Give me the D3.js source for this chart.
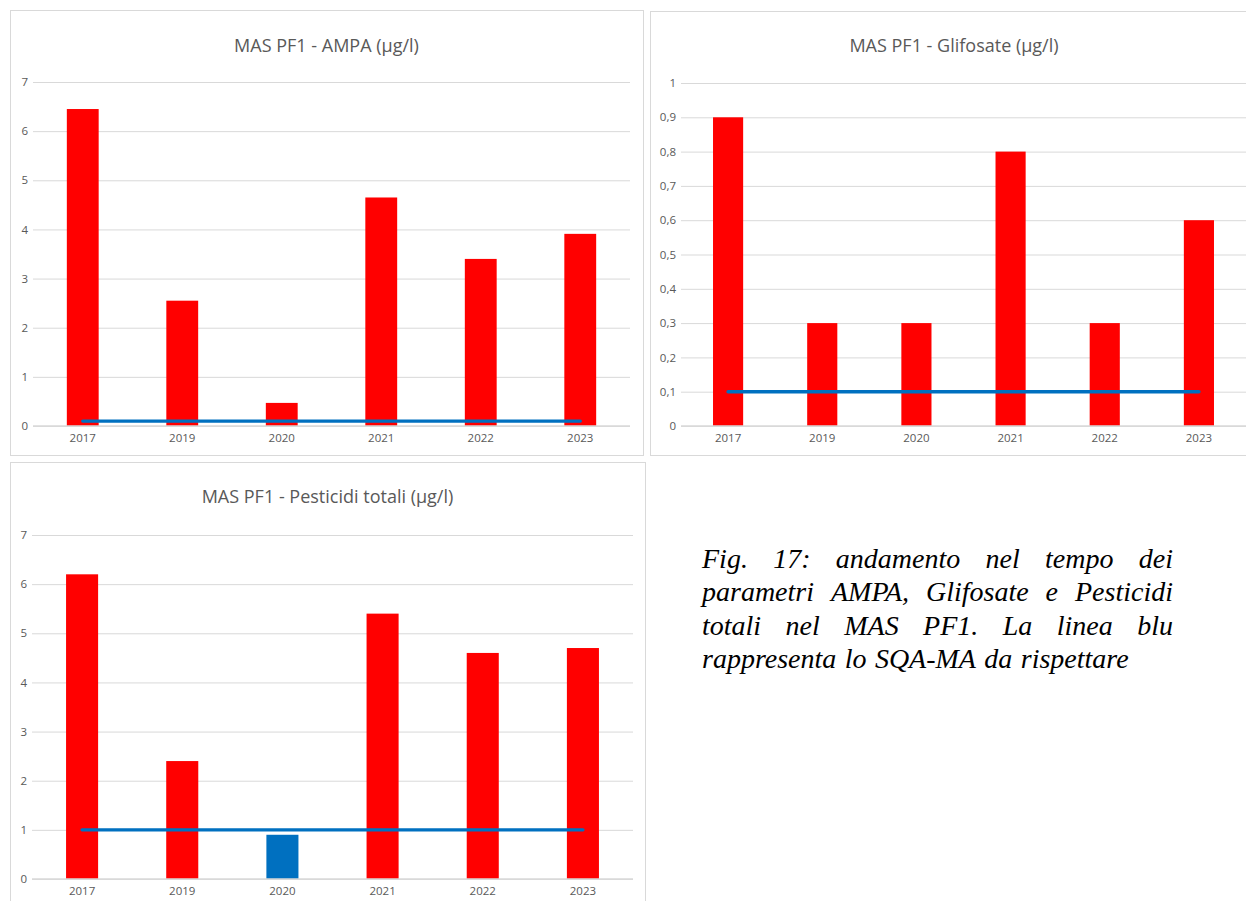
<!DOCTYPE html>
<html>
<head>
<meta charset="utf-8">
<script src="https://cdn.jsdelivr.net/npm/d3@7"></script>
<style>
  html, body { margin: 0; padding: 0; background: #ffffff; }
  svg { display: block; }
</style>
</head>
<body>
<svg id="fig" width="1246" height="901"></svg>
<script>
// Sampling years shared by the three panels
const years = ["2017", "2019", "2020", "2021", "2022", "2023"];

// Annual concentrations (µg/l) at MAS PF1
const ampa = [6.45, 2.55, 0.47, 4.65, 3.4, 3.91];
const glifosate = [0.9, 0.3, 0.3, 0.8, 0.3, 0.6];
const pesticidiTotali = [6.2, 2.4, 0.9, 5.4, 4.6, 4.7];

// SQA-MA limits (µg/l)
const sqaAmpa = 0.1;
const sqaGlifosate = 0.1;
const sqaPesticidi = 1;

// Tick values of the y axes
const ticksAmpa = [0, 1, 2, 3, 4, 5, 6, 7];
const ticksGlifosate = [0, 0.1, 0.2, 0.3, 0.4, 0.5, 0.6, 0.7, 0.8, 0.9, 1];
const ticksPesticidi = [0, 1, 2, 3, 4, 5, 6, 7];

// Titles
const titleAmpa = "MAS PF1 - AMPA (µg/l)";
const titleGlifosate = "MAS PF1 - Glifosate (µg/l)";
const titlePesticidi = "MAS PF1 - Pesticidi totali (µg/l)";

// Caption lines
const captionLines = [
  "Fig. 17: andamento nel tempo dei",
  "parametri AMPA, Glifosate e Pesticidi",
  "totali nel MAS PF1. La linea blu",
  "rappresenta lo SQA-MA da rispettare"
];

const RED = "#ff0000";
const BLUE = "#0070c0";
const GRID = "#d9d9d9";
const TEXT = "#595959";
const FONT = "'Open Sans', 'Noto Sans', sans-serif";

const itLocale = d3.formatLocale({ decimal: ",", thousands: ".", grouping: [3], currency: ["€", ""] });
const fmt = itLocale.format("~g");

const svg = d3.select("#fig");

function drawPanel(cfg) {
  const g = svg.append("g");

  // chart frame
  g.append("rect")
    .attr("x", cfg.box.x + 0.5).attr("y", cfg.box.y + 0.5)
    .attr("width", cfg.box.w).attr("height", cfg.box.h)
    .attr("fill", "#ffffff").attr("stroke", GRID).attr("stroke-width", 1);

  // title
  g.append("text")
    .attr("x", cfg.box.x + cfg.box.w / 2).attr("y", cfg.titleY)
    .attr("text-anchor", "middle")
    .attr("font-family", FONT).attr("font-size", cfg.titleSize)
    .attr("fill", TEXT)
    .text(cfg.title);

  const x = d3.scaleBand().domain(years)
    .range([cfg.plot.left, cfg.plot.right])
    .paddingInner(0.68).paddingOuter(0.34);
  const y = d3.scaleLinear().domain(cfg.domain)
    .range([cfg.plot.bottom, cfg.plot.top]);

  // horizontal gridlines + tick labels
  const yAxis = d3.axisLeft(y).tickValues(cfg.ticks).tickFormat(fmt)
    .tickSize(-(cfg.plot.right - cfg.plot.left)).tickPadding(5);
  const ya = g.append("g")
    .attr("transform", `translate(${cfg.plot.left},0)`)
    .call(yAxis);
  ya.select(".domain").remove();
  ya.selectAll(".tick line").attr("stroke", GRID).attr("stroke-width", 1);
  ya.selectAll(".tick text")
    .attr("font-family", FONT).attr("font-size", 11.5).attr("fill", TEXT);

  // bars
  g.append("g").selectAll("rect")
    .data(cfg.values.map((v, i) => ({ year: years[i], v })))
    .join("rect")
    .attr("x", d => x(d.year))
    .attr("width", x.bandwidth())
    .attr("y", d => y(d.v))
    .attr("height", d => y(0) - y(d.v))
    .attr("fill", d => d.v <= cfg.limit ? BLUE : RED);

  // baseline
  g.append("line")
    .attr("x1", cfg.plot.left).attr("x2", cfg.plot.right)
    .attr("y1", y(0)).attr("y2", y(0))
    .attr("stroke", GRID).attr("stroke-width", 1.5);

  // category axis labels
  const xAxis = d3.axisBottom(x).tickSize(0).tickPadding(8);
  const xa = g.append("g")
    .attr("transform", `translate(0,${y(0)})`)
    .call(xAxis);
  xa.select(".domain").remove();
  xa.selectAll(".tick text")
    .attr("font-family", FONT).attr("font-size", 11.5).attr("fill", TEXT);

  // SQA-MA limit line
  const line = d3.line()
    .x(d => x(d) + x.bandwidth() / 2)
    .y(() => y(cfg.limit));
  g.append("path")
    .attr("d", line(years))
    .attr("fill", "none").attr("stroke", BLUE)
    .attr("stroke-width", 3.4).attr("stroke-linecap", "round");
}

drawPanel({
  box: { x: 10, y: 10, w: 633, h: 445 },
  plot: { left: 33, right: 630, top: 82, bottom: 426 },
  domain: [0, 7], ticks: ticksAmpa,
  values: ampa, limit: sqaAmpa,
  title: titleAmpa, titleY: 52, titleSize: 18
});

drawPanel({
  box: { x: 650, y: 11, w: 608, h: 444 },
  plot: { left: 681, right: 1246, top: 83, bottom: 426 },
  domain: [0, 1], ticks: ticksGlifosate,
  values: glifosate, limit: sqaGlifosate,
  title: titleGlifosate, titleY: 52, titleSize: 18
});

drawPanel({
  box: { x: 10, y: 462, w: 635, h: 460 },
  plot: { left: 32, right: 633, top: 535, bottom: 879 },
  domain: [0, 7], ticks: ticksPesticidi,
  values: pesticidiTotali, limit: sqaPesticidi,
  title: titlePesticidi, titleY: 503, titleSize: 18
});

// Justified italic caption
const cap = { left: 702, right: 1173, firstBaseline: 568, lineStep: 33.4, size: 28 };
const capG = svg.append("g")
  .attr("font-family", "'Liberation Serif', 'Times New Roman', serif")
  .attr("font-style", "italic")
  .attr("font-size", cap.size)
  .attr("fill", "#000000");

captionLines.forEach((ln, li) => {
  const words = ln.split(" ");
  const yb = cap.firstBaseline + li * cap.lineStep;
  const nodes = words.map(w => capG.append("text").attr("y", yb).text(w));
  const widths = nodes.map(n => n.node().getComputedTextLength());
  const total = d3.sum(widths);
  const last = li === captionLines.length - 1;
  const spaceW = cap.size * 0.3;
  const gap = last ? spaceW : (cap.right - cap.left - total) / (words.length - 1);
  let cx = cap.left;
  nodes.forEach((n, i) => {
    n.attr("x", cx);
    cx += widths[i] + gap;
  });
});
</script>
</body>
</html>
